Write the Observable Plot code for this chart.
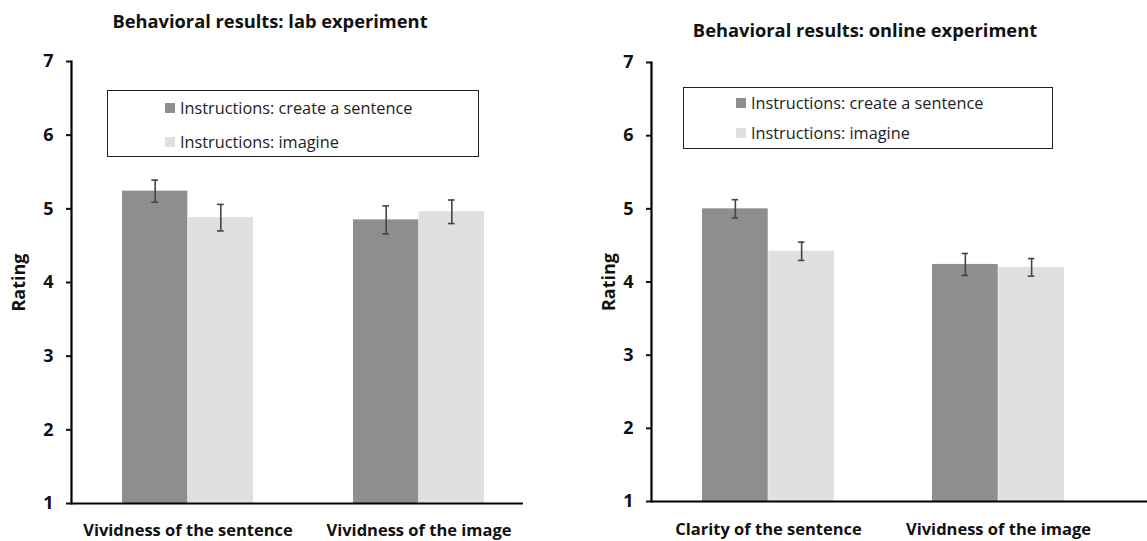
<!DOCTYPE html>
<html>
<head>
<meta charset="utf-8">
<script src="https://cdn.jsdelivr.net/npm/d3@7"></script>
<script src="https://cdn.jsdelivr.net/npm/@observablehq/plot@0.6"></script>
<style>
  html, body { margin: 0; padding: 0; background: #fff; }
  #root { position: relative; width: 1147px; height: 541px; overflow: hidden; font-family: "Open Sans", Lato, sans-serif; }
  .panel { position: absolute; top: 0; }
  .title { position: absolute; font-weight: bold; font-size: 18.3px; color: #111; white-space: nowrap; transform: translateX(-50%); line-height: 1; }
  .legend { position: absolute; border: 1.5px solid #222; background: #fff; box-sizing: border-box; }
  .legend .row { position: absolute; display: flex; align-items: center; font-size: 16.3px; color: #222; white-space: nowrap; line-height: 1; }
  .legend .sw { width: 10px; height: 10px; margin-right: 5px; }
</style>
</head>
<body>
<div id="root"></div>
<script>
// ---- data ----
const seriesNames = ["Instructions: create a sentence", "Instructions: imagine"];
const seriesColors = ["#8e8e8e", "#e0e0e0"];
const yTicks = [1, 2, 3, 4, 5, 6, 7];
const yLabel = "Rating";

const labTitle = "Behavioral results: lab experiment";
const labCategories = ["Vividness of the sentence", "Vividness of the image"];
const labCreate = [5.24, 4.85];
const labCreateErr = [0.15, 0.19];
const labImagine = [4.88, 4.96];
const labImagineErr = [0.18, 0.16];

const onlineTitle = "Behavioral results: online experiment";
const onlineCategories = ["Clarity of the sentence", "Vividness of the image"];
const onlineCreate = [5.00, 4.24];
const onlineCreateErr = [0.125, 0.15];
const onlineImagine = [4.42, 4.20];
const onlineImagineErr = [0.125, 0.12];

// ---- drawing ----
const root = document.getElementById("root");

function panel(cfg) {
  const rows = [];
  cfg.cats.forEach((c, i) => {
    rows.push({cat: c, s: 0, v: cfg.create[i], e: cfg.createErr[i]});
    rows.push({cat: c, s: 1, v: cfg.imagine[i], e: cfg.imagineErr[i]});
  });
  const dark = rows.filter(d => d.s === 0);
  const light = rows.filter(d => d.s === 1);
  const plotW = cfg.width - cfg.marginLeft - cfg.marginRight;
  const step = plotW / (cfg.cats.length - cfg.pi + 2 * cfg.po);
  const bw = step * (1 - cfg.pi);
  const half = bw / 2;
  const cap = 3.5;
  const errStyle = {stroke: "#444", strokeWidth: 1.6};
  const lo = d => d.v - d.e, hi = d => d.v + d.e;

  const svg = Plot.plot({
    width: cfg.width,
    height: 541,
    marginLeft: cfg.marginLeft,
    marginRight: cfg.marginRight,
    marginTop: cfg.marginTop,
    marginBottom: cfg.marginBottom,
    style: {fontFamily: "'Open Sans', Lato, sans-serif", fontSize: "16.5px", fontWeight: "bold", color: "#111", background: "transparent"},
    x: {domain: cfg.cats, paddingInner: cfg.pi, paddingOuter: cfg.po, align: cfg.align},
    y: {domain: [1, 7]},
    marks: [
      Plot.barY(dark, {x: "cat", y1: 1, y2: "v", fill: seriesColors[0], insetRight: half}),
      Plot.barY(light, {x: "cat", y1: 1, y2: "v", fill: seriesColors[1], insetLeft: half}),
      Plot.ruleX(dark, {x: "cat", y1: lo, y2: hi, dx: -bw / 4, ...errStyle}),
      Plot.ruleX(light, {x: "cat", y1: lo, y2: hi, dx: bw / 4, ...errStyle}),
      Plot.tickY(dark, {x: "cat", y: hi, insetLeft: bw / 4 - cap, insetRight: 3 * bw / 4 - cap, ...errStyle}),
      Plot.tickY(dark, {x: "cat", y: lo, insetLeft: bw / 4 - cap, insetRight: 3 * bw / 4 - cap, ...errStyle}),
      Plot.tickY(light, {x: "cat", y: hi, insetLeft: 3 * bw / 4 - cap, insetRight: bw / 4 - cap, ...errStyle}),
      Plot.tickY(light, {x: "cat", y: lo, insetLeft: 3 * bw / 4 - cap, insetRight: bw / 4 - cap, ...errStyle}),
      Plot.axisY({ticks: yTicks, tickSize: 5, tickPadding: 13, tickFormat: d3.format("d"), strokeWidth: 2, fontSize: 18,
                  label: yLabel, labelArrow: "none", labelAnchor: "center", labelOffset: cfg.labelOffset}),
      Plot.axisX({tickSize: 0, tickPadding: cfg.xPad, label: null}),
      Plot.frame({anchor: "left", stroke: "#000", strokeWidth: 2.2}),
      Plot.ruleY([1], {stroke: "#000", strokeWidth: 2.2})
    ]
  });
  const div = document.createElement("div");
  div.className = "panel";
  div.style.left = cfg.left + "px";
  div.appendChild(svg);
  root.appendChild(div);

  const t = document.createElement("div");
  t.className = "title";
  t.textContent = cfg.title;
  t.style.left = cfg.titleX + "px";
  t.style.top = cfg.titleY + "px";
  root.appendChild(t);

  const lg = document.createElement("div");
  lg.className = "legend";
  Object.assign(lg.style, {left: cfg.legend.x + "px", top: cfg.legend.y + "px", width: cfg.legend.w + "px", height: cfg.legend.h + "px"});
  seriesNames.forEach((n, i) => {
    const r = document.createElement("div");
    r.className = "row";
    r.style.left = cfg.legend.textX + "px";
    r.style.top = cfg.legend.rows[i] + "px";
    const sw = document.createElement("span");
    sw.className = "sw";
    sw.style.background = seriesColors[i];
    r.appendChild(sw);
    r.appendChild(document.createTextNode(n));
    lg.appendChild(r);
  });
  root.appendChild(lg);
}

panel({
  left: 0, width: 580, marginLeft: 71, marginRight: 57, marginTop: 61, marginBottom: 38,
  pi: 0.433, po: 0.1926, align: 0.562, labelOffset: 59, xPad: 21,
  cats: labCategories, create: labCreate, createErr: labCreateErr, imagine: labImagine, imagineErr: labImagineErr,
  title: labTitle, titleX: 270, titleY: 12,
  legend: {x: 107, y: 90, w: 372, h: 67, textX: 57, rows: [9, 43]}
});
panel({
  left: 580, width: 567, marginLeft: 71, marginRight: 0, marginTop: 62, marginBottom: 40,
  pi: 0.426, po: 0.287, align: 0.384, labelOffset: 49, xPad: 22,
  cats: onlineCategories, create: onlineCreate, createErr: onlineCreateErr, imagine: onlineImagine, imagineErr: onlineImagineErr,
  title: onlineTitle, titleX: 865, titleY: 21,
  legend: {x: 683, y: 87, w: 370, h: 62, textX: 52, rows: [7, 37]}
});
</script>
</body>
</html>
